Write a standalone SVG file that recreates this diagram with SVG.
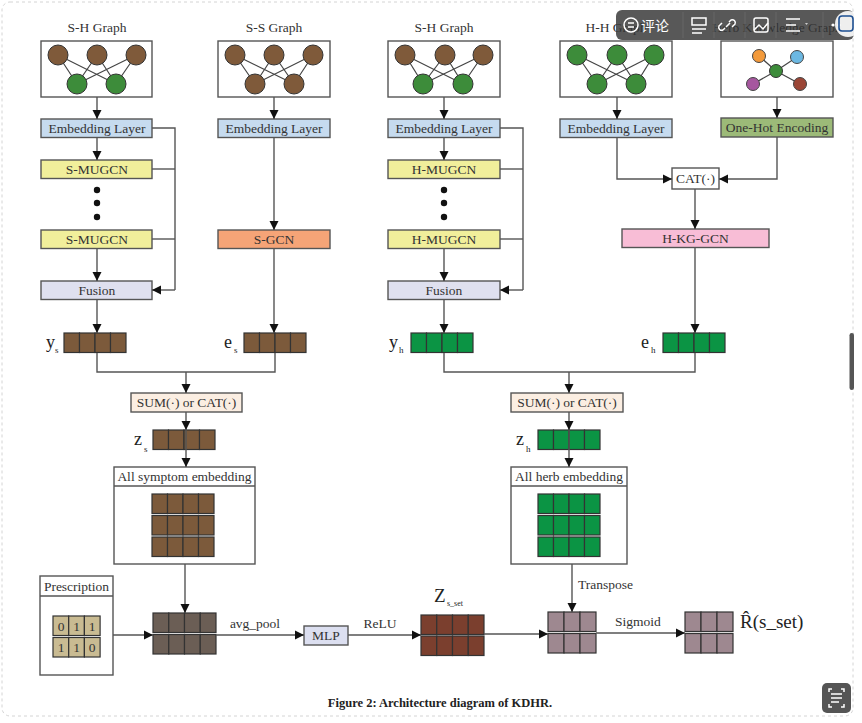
<svg xmlns="http://www.w3.org/2000/svg" xmlns:xlink="http://www.w3.org/1999/xlink" width="862" height="723" viewBox="0 0 862 723">
<style>
.t{font-family:"Liberation Serif","Times New Roman",serif;font-size:13.5px;fill:#333;text-anchor:middle}
.lbl{font-family:"Liberation Serif","Times New Roman",serif;fill:#222}
.sub{font-family:"Liberation Serif","Times New Roman",serif;fill:#222;font-size:9px}
.box{stroke:#555;stroke-width:1.4}
.ln{fill:none;stroke:#555;stroke-width:1.4}
.ar{fill:none;stroke:#555;stroke-width:1.4;marker-end:url(#ah)}
.ed{stroke:#444;stroke-width:1.2}
.nb{fill:#7f5a3a;stroke:#333;stroke-width:1}
.ng{fill:#3d8c3a;stroke:#333;stroke-width:1}
.cell{stroke:#333;stroke-width:1.2}
.tb{fill:none;stroke:#fff;stroke-width:1.5}
</style>
<defs>
<marker id="ah" viewBox="0 0 10 10" refX="10" refY="5" markerUnits="userSpaceOnUse" markerWidth="9" markerHeight="11" orient="auto">
<path d="M0,0 L10,5 L0,10 z" fill="#111"/>
</marker>
<g id="vb"><rect class="cell" fill="#7c5a3b" x="0" y="0" width="15.5" height="19.5"/><rect class="cell" fill="#7c5a3b" x="15.5" y="0" width="15.5" height="19.5"/><rect class="cell" fill="#7c5a3b" x="31" y="0" width="15.5" height="19.5"/><rect class="cell" fill="#7c5a3b" x="46.5" y="0" width="15.5" height="19.5"/></g>
<g id="vg"><rect class="cell" fill="#0b9444" x="0" y="0" width="15.5" height="19.5"/><rect class="cell" fill="#0b9444" x="15.5" y="0" width="15.5" height="19.5"/><rect class="cell" fill="#0b9444" x="31" y="0" width="15.5" height="19.5"/><rect class="cell" fill="#0b9444" x="46.5" y="0" width="15.5" height="19.5"/></g>
<g id="vd"><rect class="cell" fill="#6b5e55" x="0" y="0" width="15.75" height="19.5"/><rect class="cell" fill="#6b5e55" x="15.75" y="0" width="15.75" height="19.5"/><rect class="cell" fill="#6b5e55" x="31.5" y="0" width="15.75" height="19.5"/><rect class="cell" fill="#6b5e55" x="47.25" y="0" width="15.75" height="19.5"/></g>
<g id="vr"><rect class="cell" fill="#7b3f2e" x="0" y="0" width="15.75" height="19.5"/><rect class="cell" fill="#7b3f2e" x="15.75" y="0" width="15.75" height="19.5"/><rect class="cell" fill="#7b3f2e" x="31.5" y="0" width="15.75" height="19.5"/><rect class="cell" fill="#7b3f2e" x="47.25" y="0" width="15.75" height="19.5"/></g>
<g id="vp"><rect class="cell" fill="#9e8890" x="0" y="0" width="16" height="19.5"/><rect class="cell" fill="#9e8890" x="16" y="0" width="16" height="19.5"/><rect class="cell" fill="#9e8890" x="32" y="0" width="16" height="19.5"/></g>
</defs>
<rect x="0" y="0" width="862" height="723" fill="#fff"/>
<rect x="2" y="2" width="851" height="714" rx="8" fill="none" stroke="#d4d4d4" stroke-dasharray="3,3"/>

<!-- Column 1: S-H Graph -->
<g id="sh-graph1">
<text class="t" x="97" y="32">S-H Graph</text>
<rect class="box" x="41" y="41" width="111" height="56" fill="#fff"/>
<line class="ed" x1="58" y1="55" x2="77" y2="84"/><line class="ed" x1="58" y1="55" x2="116" y2="84"/>
<line class="ed" x1="97" y1="55" x2="77" y2="84"/><line class="ed" x1="97" y1="55" x2="116" y2="84"/>
<line class="ed" x1="136" y1="55" x2="77" y2="84"/><line class="ed" x1="136" y1="55" x2="116" y2="84"/>
<circle class="nb" cx="58" cy="55" r="10"/><circle class="nb" cx="97" cy="55" r="10"/><circle class="nb" cx="136" cy="55" r="10"/>
<circle class="ng" cx="77" cy="84" r="10"/><circle class="ng" cx="116" cy="84" r="10"/>
</g>
<g id="emb1"><rect class="box" x="41" y="119" width="111" height="18.5" fill="#c6dbef"/><text class="t" x="97" y="133">Embedding Layer</text></g>
<g id="smugcn1"><rect class="box" x="41" y="160" width="111" height="18.5" fill="#f1ef9b"/><text class="t" x="97" y="174">S-MUGCN</text></g>
<g id="dots1"><circle cx="97" cy="190" r="3.2" fill="#111"/><circle cx="97" cy="203" r="3.2" fill="#111"/><circle cx="97" cy="217" r="3.2" fill="#111"/></g>
<g id="smugcn2"><rect class="box" x="41" y="230" width="111" height="18.5" fill="#f1ef9b"/><text class="t" x="97" y="244">S-MUGCN</text></g>
<g id="fusion1"><rect class="box" x="41" y="281" width="111" height="18.5" fill="#dfe0ef"/><text class="t" x="97" y="295">Fusion</text></g>
<g id="ys"><use xlink:href="#vb" x="64" y="333"/><text class="lbl" x="46" y="348" font-size="18">y</text><text class="sub" x="55" y="353">s</text></g>

<!-- Column 2: S-S Graph -->
<g id="ss-graph">
<text class="t" x="274" y="32">S-S Graph</text>
<rect class="box" x="218" y="41" width="112" height="56" fill="#fff"/>
<line class="ed" x1="235" y1="55" x2="255" y2="84"/><line class="ed" x1="235" y1="55" x2="294" y2="84"/>
<line class="ed" x1="274" y1="55" x2="255" y2="84"/><line class="ed" x1="274" y1="55" x2="294" y2="84"/>
<line class="ed" x1="313" y1="55" x2="255" y2="84"/><line class="ed" x1="313" y1="55" x2="294" y2="84"/>
<circle class="nb" cx="235" cy="55" r="10"/><circle class="nb" cx="274" cy="55" r="10"/><circle class="nb" cx="313" cy="55" r="10"/>
<circle class="nb" cx="255" cy="84" r="10"/><circle class="nb" cx="294" cy="84" r="10"/>
</g>
<g id="emb2"><rect class="box" x="218" y="119" width="112" height="18.5" fill="#c6dbef"/><text class="t" x="274" y="133">Embedding Layer</text></g>
<g id="sgcn"><rect class="box" x="218" y="230" width="112" height="18.5" fill="#f5a477"/><text class="t" x="274" y="244">S-GCN</text></g>
<g id="es"><use xlink:href="#vb" x="244" y="333"/><text class="lbl" x="224" y="348" font-size="18">e</text><text class="sub" x="234" y="353">s</text></g>

<g id="sum1"><rect class="box" x="131" y="393" width="111" height="19" fill="#fbeee2"/><text class="t" x="186.5" y="407">SUM(·) or CAT(·)</text></g>
<g id="zs"><use xlink:href="#vb" x="153" y="430"/><text class="lbl" x="134" y="445" font-size="18">z</text><text class="sub" x="144" y="452">s</text></g>
<g id="allsym">
<rect class="box" x="114" y="467" width="141" height="97" fill="#fff"/><line class="ln" x1="114" y1="486" x2="255" y2="486"/>
<text class="t" x="184.5" y="481">All symptom embedding</text>
<use xlink:href="#vb" x="152" y="494"/><use xlink:href="#vb" x="152" y="515.5"/><use xlink:href="#vb" x="152" y="537"/>
</g>

<!-- Column 3: S-H Graph -->
<g id="sh-graph2">
<text class="t" x="444" y="32">S-H Graph</text>
<rect class="box" x="388" y="41" width="112" height="56" fill="#fff"/>
<line class="ed" x1="405" y1="55" x2="423" y2="84"/><line class="ed" x1="405" y1="55" x2="463" y2="84"/>
<line class="ed" x1="445" y1="55" x2="423" y2="84"/><line class="ed" x1="445" y1="55" x2="463" y2="84"/>
<line class="ed" x1="483" y1="55" x2="423" y2="84"/><line class="ed" x1="483" y1="55" x2="463" y2="84"/>
<circle class="nb" cx="405" cy="55" r="10"/><circle class="nb" cx="445" cy="55" r="10"/><circle class="nb" cx="483" cy="55" r="10"/>
<circle class="ng" cx="423" cy="84" r="10"/><circle class="ng" cx="463" cy="84" r="10"/>
</g>
<g id="emb3"><rect class="box" x="388" y="119" width="112" height="18.5" fill="#c6dbef"/><text class="t" x="444" y="133">Embedding Layer</text></g>
<g id="hmugcn1"><rect class="box" x="388" y="160" width="112" height="18.5" fill="#f1ef9b"/><text class="t" x="444" y="174">H-MUGCN</text></g>
<g id="dots2"><circle cx="444" cy="190" r="3.2" fill="#111"/><circle cx="444" cy="203" r="3.2" fill="#111"/><circle cx="444" cy="217" r="3.2" fill="#111"/></g>
<g id="hmugcn2"><rect class="box" x="388" y="230" width="112" height="18.5" fill="#f1ef9b"/><text class="t" x="444" y="244">H-MUGCN</text></g>
<g id="fusion2"><rect class="box" x="388" y="281" width="112" height="18.5" fill="#dfe0ef"/><text class="t" x="444" y="295">Fusion</text></g>
<g id="yh"><use xlink:href="#vg" x="411" y="333"/><text class="lbl" x="389" y="348" font-size="18">y</text><text class="sub" x="399" y="353">h</text></g>

<!-- Column 4: H-H Graph -->
<g id="hh-graph">
<text class="t" x="616" y="32">H-H Graph</text>
<rect class="box" x="560" y="41" width="112" height="56" fill="#fff"/>
<line class="ed" x1="577" y1="55" x2="597" y2="84"/><line class="ed" x1="577" y1="55" x2="636" y2="84"/>
<line class="ed" x1="617" y1="55" x2="597" y2="84"/><line class="ed" x1="617" y1="55" x2="636" y2="84"/>
<line class="ed" x1="654" y1="55" x2="597" y2="84"/><line class="ed" x1="654" y1="55" x2="636" y2="84"/>
<circle class="ng" cx="577" cy="55" r="10"/><circle class="ng" cx="617" cy="55" r="10"/><circle class="ng" cx="654" cy="55" r="10"/>
<circle class="ng" cx="597" cy="84" r="10"/><circle class="ng" cx="636" cy="84" r="10"/>
</g>
<g id="emb4"><rect class="box" x="560" y="119" width="112" height="18.5" fill="#c6dbef"/><text class="t" x="616" y="133">Embedding Layer</text></g>

<!-- Column 5: Knowledge Graph -->
<g id="kg-graph">
<text class="t" x="777" y="32">Herb Knowledge Graph</text>
<rect class="box" x="721" y="41" width="112" height="56" fill="#fff"/>
<line class="ed" x1="776" y1="71" x2="759" y2="56"/><line class="ed" x1="776" y1="71" x2="797" y2="57"/>
<line class="ed" x1="776" y1="71" x2="753" y2="84"/><line class="ed" x1="776" y1="71" x2="800" y2="84"/>
<circle cx="759" cy="56" r="6.5" fill="#f39a3b" stroke="#444"/>
<circle cx="797" cy="57" r="6.5" fill="#6cb8e2" stroke="#444"/>
<circle cx="753" cy="84" r="6.5" fill="#a6579f" stroke="#444"/>
<circle cx="800" cy="84" r="6.5" fill="#9b4636" stroke="#444"/>
<circle cx="776" cy="71" r="6.5" fill="#3d8c3a" stroke="#333"/>
</g>
<g id="onehot"><rect class="box" x="721" y="118" width="112" height="19" fill="#9cba78"/><text class="t" x="777" y="132">One-Hot Encoding</text></g>
<g id="cat"><rect class="box" x="672" y="168" width="47" height="21" fill="#fff"/><text class="t" x="695.5" y="183">CAT(·)</text></g>
<g id="hkggcn"><rect class="box" x="622" y="229" width="147" height="18.5" fill="#f8bdd6"/><text class="t" x="695.5" y="243">H-KG-GCN</text></g>
<g id="eh"><use xlink:href="#vg" x="663" y="333"/><text class="lbl" x="641" y="348" font-size="18">e</text><text class="sub" x="651" y="353">h</text></g>

<g id="sum2"><rect class="box" x="511" y="393" width="112" height="19" fill="#fbeee2"/><text class="t" x="567" y="407">SUM(·) or CAT(·)</text></g>
<g id="zh"><use xlink:href="#vg" x="538" y="430"/><text class="lbl" x="516" y="445" font-size="18">z</text><text class="sub" x="526" y="452">h</text></g>
<g id="allherb">
<rect class="box" x="511" y="467" width="116" height="97" fill="#fff"/><line class="ln" x1="511" y1="486" x2="627" y2="486"/>
<text class="t" x="569" y="481">All herb embedding</text>
<use xlink:href="#vg" x="538" y="494"/><use xlink:href="#vg" x="538" y="515.5"/><use xlink:href="#vg" x="538" y="537"/>
</g>

<!-- Bottom row -->
<g id="prescription">
<rect class="box" x="40" y="576" width="73" height="99" fill="#fff"/><line class="ln" x1="40" y1="596" x2="113" y2="596"/>
<text class="t" x="76.5" y="591">Prescription</text>
<g class="cell" fill="#c9bb92">
<rect x="53" y="616" width="15.7" height="19.5"/><rect x="68.7" y="616" width="15.7" height="19.5"/><rect x="84.4" y="616" width="15.7" height="19.5"/>
<rect x="53" y="637.5" width="15.7" height="19.5"/><rect x="68.7" y="637.5" width="15.7" height="19.5"/><rect x="84.4" y="637.5" width="15.7" height="19.5"/>
</g>
<g class="t" font-size="13"><text x="61" y="631">0</text><text x="76.5" y="631">1</text><text x="92" y="631">1</text><text x="61" y="652">1</text><text x="76.5" y="652">1</text><text x="92" y="652">0</text></g>
</g>
<g id="symmat"><use xlink:href="#vd" x="153" y="613"/><use xlink:href="#vd" x="153" y="634.5"/></g>
<g id="mlp"><rect class="box" x="304" y="626" width="44" height="19" fill="#dcdff0"/><text class="t" x="326" y="640">MLP</text></g>
<g id="zsset"><use xlink:href="#vr" x="421" y="615"/><use xlink:href="#vr" x="421" y="636"/><text class="lbl" x="434" y="602" font-size="19">Z</text><text class="lbl" x="447" y="606" font-size="8">s_set</text></g>
<g id="transp"><use xlink:href="#vp" x="548" y="612"/><use xlink:href="#vp" x="548" y="633.5"/></g>
<g id="output"><use xlink:href="#vp" x="685" y="612"/><use xlink:href="#vp" x="685" y="633.5"/><text class="lbl" x="740" y="628" font-size="19">R̂(s_set)</text></g>

<!-- Connectors -->
<g id="connectors">
<path class="ar" d="M97,97 V119"/>
<path class="ar" d="M97,138 V160"/>
<path class="ar" d="M97,249 V281"/>
<path class="ar" d="M97,300 V333"/>
<path class="ln" d="M152,128 H175 V290"/><path class="ln" d="M152,169 H175"/><path class="ln" d="M152,239 H175"/>
<path class="ar" d="M175,290 H152"/>
<path class="ar" d="M274,97 V119"/>
<path class="ar" d="M274,138 V230"/>
<path class="ar" d="M274,249 V333"/>
<path class="ln" d="M97,353 V372 H275 V353"/>
<path class="ar" d="M186,372 V393"/>
<path class="ar" d="M186,412 V430"/>
<path class="ln" d="M186,430 V449"/>
<path class="ar" d="M186,449 V467"/>
<path class="ar" d="M185,564 V613"/>

<path class="ar" d="M444,97 V119"/>
<path class="ar" d="M444,138 V160"/>
<path class="ar" d="M444,249 V281"/>
<path class="ar" d="M444,300 V333"/>
<path class="ln" d="M500,128 H523 V290"/><path class="ln" d="M500,169 H523"/><path class="ln" d="M500,239 H523"/>
<path class="ar" d="M523,290 H500"/>
<path class="ar" d="M617,97 V119"/>
<path class="ar" d="M617,138 V179 H672"/>
<path class="ar" d="M777,97 V118"/>
<path class="ar" d="M777,137 V179 H719"/>
<path class="ar" d="M695,189 V229"/>
<path class="ar" d="M695,248 V333"/>
<path class="ln" d="M444,353 V372 H695 V353"/>
<path class="ar" d="M569,372 V393"/>
<path class="ar" d="M569,412 V430"/>
<path class="ln" d="M569,430 V449"/>
<path class="ar" d="M569,449 V467"/>
<path class="ar" d="M572,564 V612"/>

<path class="ar" d="M113,635 H153"/>
<path class="ar" d="M216,635 H304"/>
<path class="ar" d="M348,635 H421"/>
<path class="ar" d="M484,634 H548"/>
<path class="ar" d="M596,633 H685"/>
<text class="t" x="255" y="628" font-size="13">avg_pool</text>
<text class="t" x="380" y="628" font-size="13">ReLU</text>
<text class="t" x="578" y="589" font-size="13" style="text-anchor:start">Transpose</text>
<text class="t" x="638" y="626" font-size="13">Sigmoid</text>
</g>

<text class="lbl" x="440" y="707" font-size="12.5" font-weight="bold" text-anchor="middle">Figure 2: Architecture diagram of KDHR.</text>

<!-- Viewer overlay -->
<g id="toolbar">
<rect x="616" y="10" width="238" height="30" rx="6" fill="#333" fill-opacity="0.82"/>
<circle class="tb" cx="631" cy="25" r="7"/><line class="tb" x1="628" y1="23" x2="634" y2="23"/><line class="tb" x1="628" y1="27" x2="634" y2="27"/>
<text x="641" y="30.5" font-family="'Noto Sans CJK SC',sans-serif" font-size="14" fill="#fff">评论</text>
<line x1="683" y1="12" x2="683" y2="38" stroke="#666"/>
<path class="tb" d="M692,18 H706 V25 H692 Z M692,29 H706 M692,33 H702"/>
<line x1="714" y1="12" x2="714" y2="38" stroke="#666"/>
<path class="tb" d="M725,28 l-2,2 a3,3 0 0 1 -4,-4 l3,-3 M729,22 l2,-2 a3,3 0 0 1 4,4 l-3,3 M726,27 l4,-4"/>
<line x1="745" y1="12" x2="745" y2="38" stroke="#666"/>
<rect class="tb" x="754" y="18" width="14" height="14" rx="2"/><path class="tb" d="M754,30 l5,-5 l4,4 l5,-6"/>
<line x1="776" y1="12" x2="776" y2="38" stroke="#666"/>
<path class="tb" d="M786,19 H800 M786,25 H796 M786,31 H800"/><path d="M805,23 l3,0 l-1.5,2 z" fill="#ccc"/>
<line x1="823" y1="12" x2="823" y2="38" stroke="#666"/>
<circle cx="833" cy="25" r="1.6" fill="#fff"/><circle cx="839" cy="25" r="1.6" fill="#fff"/>
<circle cx="848" cy="24" r="13" fill="#fff" fill-opacity="0.9"/>
<rect x="839" y="16" width="14" height="15" rx="3" fill="none" stroke="#1d4f91" stroke-width="1.6"/>
</g>
<rect x="849.5" y="333" width="4.5" height="57" rx="2.2" fill="#555"/>
<g id="scanbtn">
<rect x="822" y="683" width="29" height="30" rx="5" fill="#555"/>
<path class="tb" d="M829,692 v-3 h3 M841,689 h3 v3 M844,704 v3 h-3 M832,707 h-3 v-3 M831,694 h11 M831,698 h11 M831,702 h8"/>
</g>
</svg>
